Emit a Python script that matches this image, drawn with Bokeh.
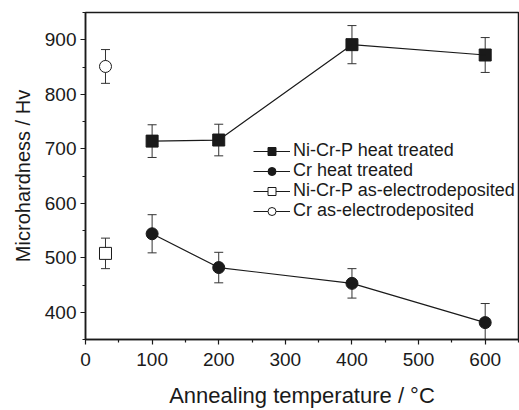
from bokeh.plotting import figure
from bokeh.models import FixedTicker, Legend, LegendItem, Range1d
from bokeh.embed import file_html
from bokeh.resources import INLINE

# ---- data ----
temp = [100, 200, 400, 600]
nicrp_ht = [714, 716, 891, 872]
nicrp_ht_err = [30, 29, 35, 32]
cr_ht = [544, 482, 453, 381]
cr_ht_err = [35, 28, 27, 35]
asdep_x = [30]
nicrp_as = [508]
nicrp_as_err = [28]
cr_as = [851]
cr_as_err = [31]

x_ticks = [0, 100, 200, 300, 400, 500, 600]
x_minor = [50, 150, 250, 350, 450, 550, 650]
y_ticks = [400, 500, 600, 700, 800, 900]
y_minor = [350, 450, 550, 650, 750, 850, 950]

labels = ["Ni-Cr-P heat treated", "Cr heat treated",
          "Ni-Cr-P as-electrodeposited", "Cr as-electrodeposited"]

FONT = "Liberation Sans"
INK = "#1a1a1a"
BAR = "#333333"

p = figure(width=519, height=410, output_backend="svg", toolbar_location=None,
           x_range=Range1d(0, 650), y_range=Range1d(350, 950),
           min_border_left=85, min_border_right=1, min_border_top=12,
           min_border_bottom=67)
p.xgrid.visible = False
p.ygrid.visible = False
p.outline_line_color = INK
p.outline_line_width = 1.5
p.background_fill_color = "white"
p.border_fill_color = "white"

for ax in (p.xaxis[0], p.yaxis[0]):
    ax.axis_line_color = INK
    ax.axis_line_width = 1.5
    ax.major_tick_line_color = INK
    ax.minor_tick_line_color = INK
    ax.major_tick_line_width = 1.2
    ax.minor_tick_line_width = 1.2
    ax.major_tick_out = 5
    ax.major_tick_in = 0
    ax.minor_tick_out = 3
    ax.minor_tick_in = 0
    ax.major_label_text_font = FONT
    ax.major_label_text_font_size = "19px"
    ax.major_label_text_color = INK
    ax.axis_label_text_font = FONT
    ax.axis_label_text_font_style = "normal"
    ax.axis_label_text_color = INK

p.xaxis.ticker = FixedTicker(ticks=x_ticks, minor_ticks=x_minor)
p.yaxis.ticker = FixedTicker(ticks=y_ticks, minor_ticks=y_minor)
p.xaxis.axis_label = "Annealing temperature / °C"
p.yaxis.axis_label = "Microhardness / Hv"
p.xaxis.axis_label_text_font_size = "22px"
p.yaxis.axis_label_text_font_size = "20px"
p.xaxis.major_label_standoff = 8
p.yaxis.major_label_standoff = 4
p.xaxis.axis_label_standoff = 14
p.yaxis.axis_label_standoff = 8


def errbars(x, y, e):
    lo = [a - b for a, b in zip(y, e)]
    hi = [a + b for a, b in zip(y, e)]
    p.segment(x0=x, y0=lo, x1=x, y1=hi, line_color=BAR, line_width=1)
    p.scatter(x, lo, marker="dash", size=9, line_color=BAR, line_width=1)
    p.scatter(x, hi, marker="dash", size=9, line_color=BAR, line_width=1)


errbars(temp, nicrp_ht, nicrp_ht_err)
errbars(temp, cr_ht, cr_ht_err)
errbars(asdep_x, nicrp_as, nicrp_as_err)
errbars(asdep_x, cr_as, cr_as_err)

m1 = p.scatter(temp, nicrp_ht, marker="square", size=12, fill_color=INK, line_color=INK)
m2 = p.scatter(temp, cr_ht, marker="circle", size=12, fill_color=INK, line_color=INK)
m3 = p.scatter(asdep_x, nicrp_as, marker="square", size=12, fill_color="white",
               line_color=INK, line_width=1)
m4 = p.scatter(asdep_x, cr_as, marker="circle", size=12, fill_color="white",
               line_color=INK, line_width=1)
l1 = p.line(temp, nicrp_ht, line_color=INK, line_width=1.2)
l2 = p.line(temp, cr_ht, line_color=INK, line_width=1.2)
l3 = p.line(asdep_x, nicrp_as, line_color=INK, line_width=1.2)
l4 = p.line(asdep_x, cr_as, line_color=INK, line_width=1.2)

# one legend per row (each placed from the frame's bottom-left, in pixels)
rows = [([l1, m1], 178), ([l2, m2], 158), ([l3, m3], 138), ([l4, m4], 118)]
for lab, (rs, ypos) in zip(labels, rows):
    lg = Legend(items=[LegendItem(label=lab, renderers=rs)], location=(168, ypos))
    lg.border_line_color = None
    lg.background_fill_alpha = 0
    lg.padding = 0
    lg.margin = 0
    lg.spacing = 0
    lg.glyph_width = 37
    lg.glyph_height = 20
    lg.label_height = 20
    lg.label_standoff = 3
    lg.label_text_font = FONT
    lg.label_text_font_size = "18px"
    lg.label_text_color = INK
    lg.label_text_baseline = "middle"
    p.add_layout(lg, "center")

open("out.html", "w").write(file_html(p, INLINE))
